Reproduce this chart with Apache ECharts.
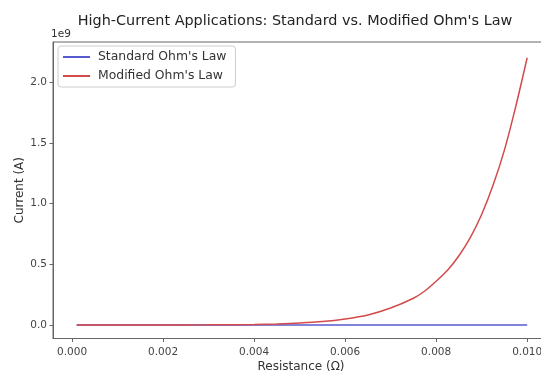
<!DOCTYPE html>
<html><head><meta charset="utf-8">
<script src="https://cdn.jsdelivr.net/npm/echarts@6/dist/echarts.min.js"></script>
<style>html,body{margin:0;padding:0;background:#fff;overflow:hidden}#c{width:541px;height:372px}</style>
</head><body><div id="c"></div>
<script>
// Resistance (ohm)
const resistance = [0.0001, 0.001, 0.002, 0.003, 0.004, 0.0045, 0.005, 0.0055, 0.006, 0.0065, 0.007, 0.0075, 0.00775, 0.008, 0.00825, 0.0085, 0.00875, 0.009, 0.00925, 0.0095, 0.00975, 0.010];
// Current in units of 1e9 A
const standardCurrent = [0.00001, 0.000001, 0.0000005, 0.0000003, 0.0000003, 0.0000002, 0.0000002, 0.0000002, 0.0000002, 0.0000002, 0.0000001, 0.0000001, 0.0000001, 0.0000001, 0.0000001, 0.0000001, 0.0000001, 0.0000001, 0.0000001, 0.0000001, 0.0000001, 0.0000001];
const modifiedCurrent = [0.0001, 0.0002, 0.0006, 0.002, 0.005, 0.009, 0.016, 0.028, 0.05, 0.083, 0.14, 0.22, 0.28, 0.36, 0.45, 0.57, 0.72, 0.91, 1.15, 1.44, 1.80, 2.20];
const xTicks = [0, 0.002, 0.004, 0.006, 0.008, 0.010];
const yTicks = [0, 0.5, 1.0, 1.5, 2.0];

const font = 'DejaVu Sans';
const chart = echarts.init(document.getElementById('c'), null, {renderer: 'canvas'});
const pair = (xs, ys) => xs.map((x, i) => [x, ys[i]]);
chart.setOption({
  animation: false,
  backgroundColor: '#fff',
  title: {
    text: "High-Current Applications: Standard vs. Modified Ohm's Law",
    left: 290, top: 9, textAlign: 'center',
    textStyle: {fontFamily: font, fontSize: 14.4, fontWeight: 'normal', color: '#222'}
  },
  graphic: [{
    type: 'text', left: 51, top: 29,
    style: {text: '1e9', fontFamily: font, fontSize: 10.5, fill: '#333'}
  }],
  legend: {
    orient: 'vertical', left: 58, top: 46,
    padding: [5, 9, 5, 5], itemGap: 7,
    itemWidth: 27, itemHeight: 2,
    borderColor: '#ccc', borderWidth: 1, borderRadius: 3,
    backgroundColor: 'rgba(255,255,255,0.8)',
    textStyle: {fontFamily: font, fontSize: 12.4, color: '#333', padding: [0, 0, 0, 3]},
    icon: 'rect',
    data: ["Standard Ohm's Law", "Modified Ohm's Law"]
  },
  grid: {left: 53, top: 42, width: 496, bottom: 33.5, outerBoundsMode: 'none', containLabel: false,
    show: true, borderColor: '#666', borderWidth: 1},
  xAxis: {
    type: 'value', min: -0.00042, max: 0.01048,
    name: 'Resistance (Ω)', nameLocation: 'middle', nameGap: 22, nameMoveOverlap: false,
    nameTextStyle: {fontFamily: font, fontSize: 12, color: '#333'},
    splitLine: {show: false},
    axisLine: {show: true, onZero: false, lineStyle: {color: '#666'}},
    axisTick: {show: true, length: 3.5, lineStyle: {color: '#666'}, customValues: xTicks},
    axisLabel: {fontFamily: font, fontSize: 10.5, color: '#444', margin: 8, customValues: xTicks,
      formatter: v => v.toFixed(3)}
  },
  yAxis: {
    type: 'value', min: -0.111, max: 2.33,
    name: 'Current (A)', nameLocation: 'middle', nameGap: 27, nameRotate: 90, nameMoveOverlap: false,
    nameTextStyle: {fontFamily: font, fontSize: 12, color: '#333'},
    splitLine: {show: false},
    axisLine: {show: true, onZero: false, lineStyle: {color: '#666'}},
    axisTick: {show: true, length: 3.5, lineStyle: {color: '#666'}, customValues: yTicks},
    axisLabel: {fontFamily: font, fontSize: 10.5, color: '#444', margin: 6, customValues: yTicks,
      formatter: v => v.toFixed(1)}
  },
  series: [
    {name: "Standard Ohm's Law", type: 'line', showSymbol: false, data: pair(resistance, standardCurrent),
      lineStyle: {color: '#5a5ad0', width: 1.5}, itemStyle: {color: '#5a5ad0'}},
    {name: "Modified Ohm's Law", type: 'line', showSymbol: false, smooth: 0.3, data: pair(resistance, modifiedCurrent),
      lineStyle: {color: '#d44a4a', width: 1.5}, itemStyle: {color: '#d44a4a'}}
  ]
});
</script></body></html>
